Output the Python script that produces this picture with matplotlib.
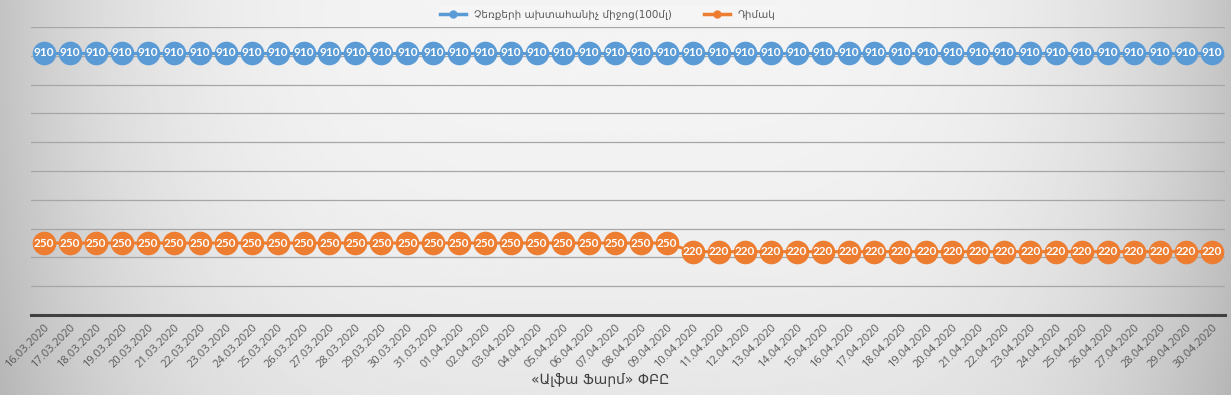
import numpy as np
import pandas as pd
import matplotlib
matplotlib.use('Agg')
import matplotlib.pyplot as plt
from matplotlib.lines import Line2D

# 資料
dates = pd.date_range('2020-03-16', '2020-04-30').strftime('%d.%m.%Y').tolist()
sanitizer = [910] * 46
masks = [250] * 25 + [220] * 21

series_names = ['Չեռքերի ախտահանիչ միջոց(100մլ)', 'Դիմակ']
colors = ['#5b9bd5', '#ed7d31']
x_title = '«Ալֆա Ֆարմ» ՓԲԸ'

fig = plt.figure(figsize=(12.31, 3.95), dpi=100)

# 背景漸層 (左右兩側較暗)
bg = fig.add_axes([0, 0, 1, 1], zorder=-10)
gx = np.linspace(-1, 1, 600)
gy = np.linspace(-1, 1, 200)
X, Y = np.meshgrid(gx, gy)
shade = 0.955 - 0.19 * np.abs(X) ** 4 - 0.05 * ((Y + 1) / 2) ** 2
bg.imshow(shade, cmap='gray', vmin=0, vmax=1, aspect='auto', extent=(0, 1, 0, 1),
          interpolation='bilinear')
bg.set_axis_off()

ax = fig.add_axes([0.0252, 0.2025, 0.9698, 0.729])
ax.set_facecolor('none')
x = np.arange(len(dates))

for vals, c in zip([sanitizer, masks], colors):
    ax.plot(x, vals, color=c, linewidth=2.2, marker='o', markersize=17,
            markeredgewidth=0, zorder=3)
    for xi, v in zip(x, vals):
        ax.text(xi, v, str(v), color='white', fontsize=8.5, fontweight='bold',
                family='Lato', ha='center', va='center', zorder=4)

ax.set_xlim(-0.5, len(dates) - 0.5)
ax.set_ylim(0, 1000)
ax.set_yticks(np.arange(100, 1001, 100))
ax.yaxis.grid(True, color='#a6a6a6', linewidth=0.9)
ax.set_axisbelow(True)
ax.tick_params(axis='y', left=False, labelleft=False)
ax.tick_params(axis='x', length=0, pad=5)
for s in ['top', 'right', 'left']:
    ax.spines[s].set_visible(False)
ax.spines['bottom'].set_color('#404040')
ax.spines['bottom'].set_linewidth(2.2)

ax.set_xticks(x)
ax.set_xticklabels(dates, rotation=45, ha='right', rotation_mode='anchor',
                   fontsize=8, color='#595959', family='Open Sans')

fig.text(600 / 1231, 1 - 380 / 395, x_title, ha='center', va='center',
         fontsize=10, color='#404040', family='DejaVu Sans')

handles = [Line2D([0], [0], color=c, linewidth=2.5, marker='o', markersize=5)
           for c in colors]
leg = fig.legend(handles, series_names, loc='center', bbox_to_anchor=(608 / 1231, 1 - 15 / 395),
                 ncol=2, frameon=True, fontsize=7.5, handlelength=2.5, columnspacing=3,
                 borderpad=0.4, borderaxespad=0, labelcolor='#595959')
leg.get_frame().set_facecolor('#f6f6f6')
leg.get_frame().set_edgecolor('none')
leg.get_frame().set_alpha(0.85)

fig.savefig('out.png', dpi=100)
